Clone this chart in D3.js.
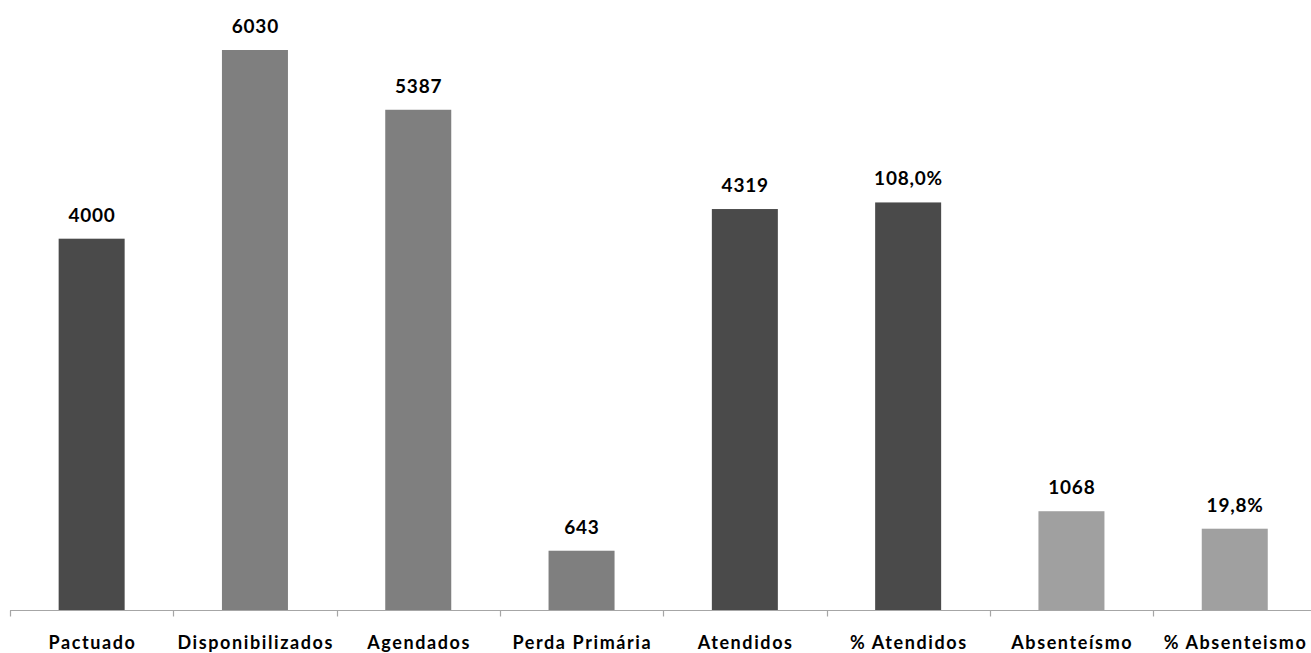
<!DOCTYPE html>
<html>
<head>
<meta charset="utf-8">
<script src="https://cdn.jsdelivr.net/npm/d3@7"></script>
<style>
  html, body { margin: 0; padding: 0; background: #fff; }
  svg { display: block; }
  text { font-family: Lato, "Open Sans", "DejaVu Sans", sans-serif; font-weight: bold; fill: #000; }
</style>
</head>
<body>
<svg id="chart" width="1311" height="653"></svg>
<script>
const categories = ["Pactuado", "Disponibilizados", "Agendados", "Perda Primária", "Atendidos", "% Atendidos", "Absenteísmo", "% Absenteismo"];
const values = [4000, 6030, 5387, 643, 4319, 4390, 1068, 880];
const valueLabels = ["4000", "6030", "5387", "643", "4319", "108,0%", "1068", "19,8%"];
const colors = ["#4a4a4a", "#7f7f7f", "#7f7f7f", "#7f7f7f", "#4a4a4a", "#4a4a4a", "#a0a0a0", "#a0a0a0"];

const svg = d3.select("#chart");
const x0 = 10, bandW = 163.3;
const x = d3.scaleBand().domain(categories).range([x0, x0 + bandW * categories.length]).paddingInner(0).paddingOuter(0);
const y = d3.scaleLinear().domain([0, 6030]).range([610.5, 50]);
const barW = 66;

svg.selectAll("rect.bar").data(categories).enter().append("rect")
  .attr("class", "bar")
  .attr("x", d => x(d) + x.bandwidth() / 2 - barW / 2)
  .attr("width", barW)
  .attr("y", (d, i) => y(values[i]))
  .attr("height", (d, i) => y(0) - y(values[i]))
  .attr("fill", (d, i) => colors[i]);

// axis
const axisG = svg.append("g").attr("transform", "translate(0,610.5)");
axisG.append("line").attr("x1", x0).attr("x2", 1311).attr("y1", 0).attr("y2", 0)
  .attr("stroke", "#a6a6a6").attr("stroke-width", 1.2);
const tickPos = d3.range(categories.length + 1).map(i => x0 + i * bandW);
axisG.selectAll("line.tick").data(tickPos).enter().append("line")
  .attr("class", "tick")
  .attr("x1", d => Math.round(d) + 0.5).attr("x2", d => Math.round(d) + 0.5)
  .attr("y1", 0).attr("y2", 6)
  .attr("stroke", "#a6a6a6").attr("stroke-width", 1.2);

const catSpacing = 1.6;
svg.selectAll("text.cat").data(categories).enter().append("text")
  .attr("class", "cat")
  .attr("x", d => x(d) + x.bandwidth() / 2 + catSpacing / 2)
  .attr("y", 649)
  .attr("text-anchor", "middle")
  .attr("font-size", 18)
  .attr("letter-spacing", catSpacing)
  .text(d => d);

const valSpacing = 0.8;
svg.selectAll("text.val").data(categories).enter().append("text")
  .attr("class", "val")
  .attr("x", d => x(d) + x.bandwidth() / 2 + valSpacing / 2)
  .attr("y", (d, i) => y(values[i]) - 17)
  .attr("text-anchor", "middle")
  .attr("font-size", 19)
  .attr("letter-spacing", valSpacing)
  .text((d, i) => valueLabels[i]);
</script>
</body>
</html>
